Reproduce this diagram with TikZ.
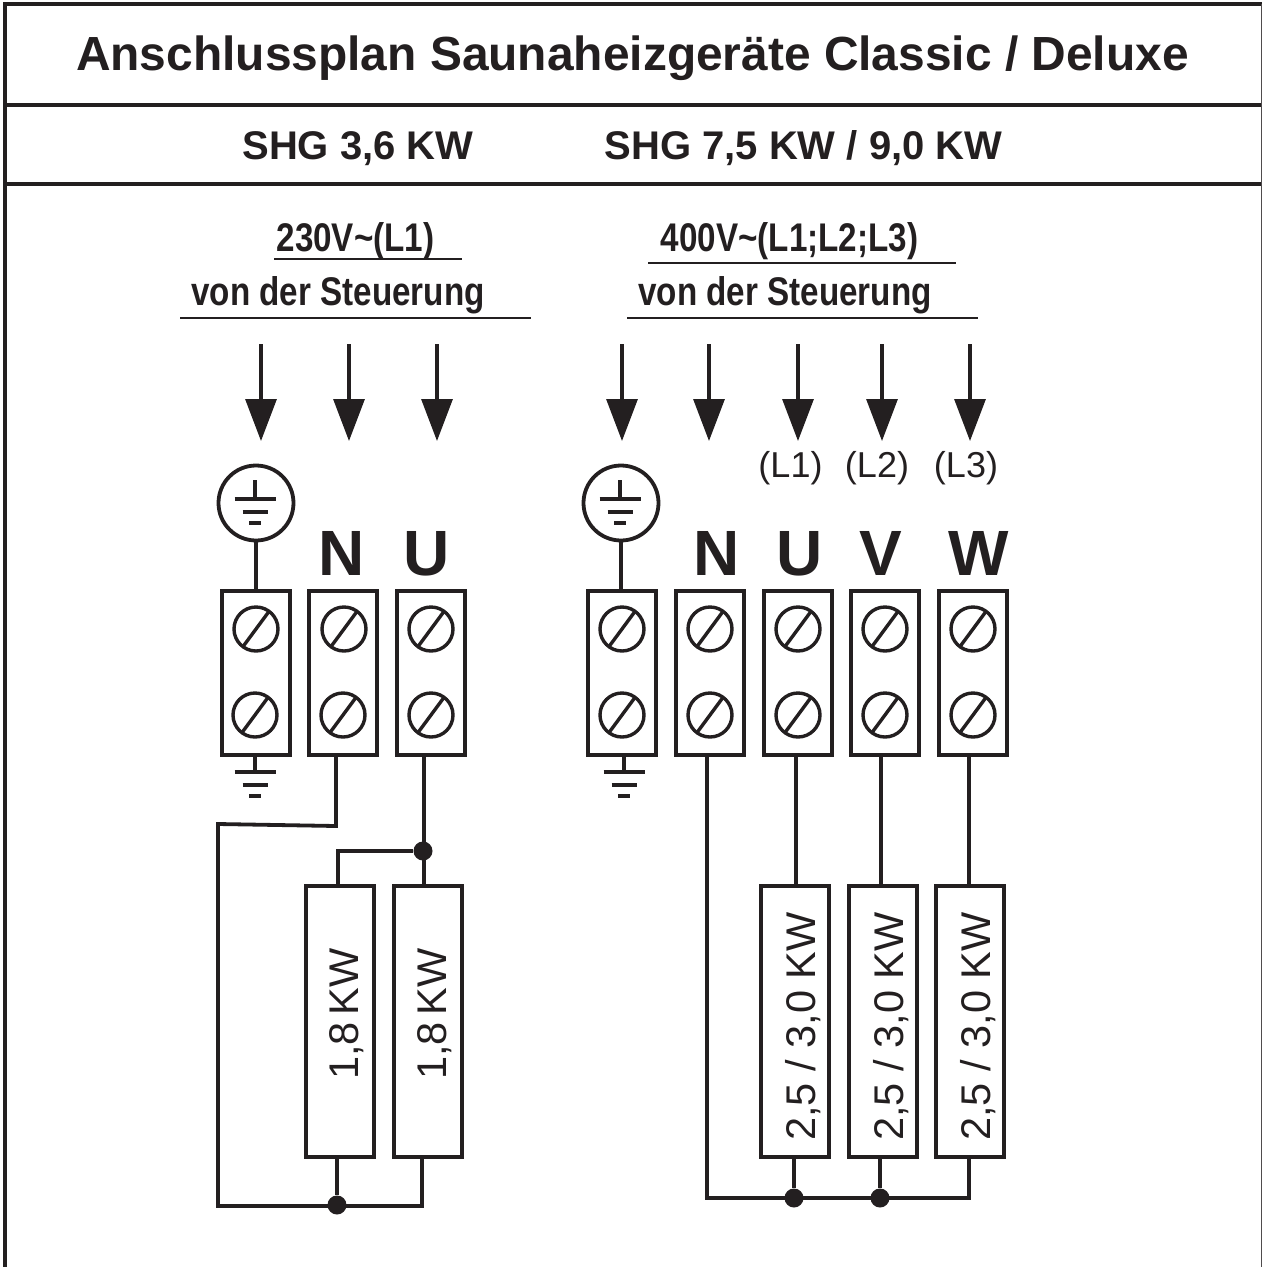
\documentclass[tikz,border=0pt]{standalone}
\usepackage{fontspec}
\setmainfont{Liberation Sans}
\newfontfamily\condfont[FakeStretch=0.83]{Liberation Sans}
\usepackage{tikz}
\usetikzlibrary{arrows.meta}
\definecolor{ink}{HTML}{231F20}
\tikzset{
	wire/.style={draw=ink, line width=3.8pt},
	rule/.style={draw=ink, line width=2pt},
	frameline/.style={draw=ink, line width=4pt},
	edgeline/.style={draw=ink!80, line width=1pt},
	feed/.style={draw=ink, line width=3.2pt, -{Triangle[length=42pt,width=31pt,fill=ink]}},
	terminal/.style={draw=ink, line width=3.8pt, rectangle, minimum width=68pt, minimum height=164pt, inner sep=0pt},
	heater/.style={draw=ink, line width=3.8pt, rectangle, minimum width=68pt, minimum height=271pt, inner sep=0pt},
	screw/.style={circle, draw=ink, line width=3.4pt, minimum size=44pt, inner sep=0pt,
		path picture={\draw[ink, line width=3.4pt] ([xshift=-17pt,yshift=-23pt]path picture bounding box.center) -- ([xshift=17pt,yshift=23pt]path picture bounding box.center);}},
	earthring/.style={circle, draw=ink, line width=3.8pt, minimum size=75pt, inner sep=0pt},
	dot/.style={circle, fill=ink, inner sep=0pt, minimum size=19pt},
	title/.style={font=\fontsize{47.9}{49}\selectfont\bfseries, text=ink, inner sep=0pt, anchor=base},
	subtitle/.style={font=\fontsize{40}{40}\selectfont\bfseries, text=ink, inner sep=0pt, anchor=base},
	supply/.style={font=\condfont\fontsize{40}{40}\selectfont\bfseries, text=ink, inner sep=0pt, anchor=base},
	phase/.style={font=\fontsize{36}{36}\selectfont, text=ink, inner sep=0pt, anchor=base},
	letter/.style={font=\fontsize{64}{64}\selectfont\bfseries, text=ink, inner sep=0pt, anchor=base},
	power/.style={font=\fontsize{41.5}{42}\selectfont, text=ink, inner sep=0pt, rotate=90},
	earth/.pic={
		\draw[ink, line width=4pt] (0,-23) -- (0,-4);
		\draw[ink, line width=4pt] (-20.5,-4) -- (20.5,-4);
		\draw[ink, line width=4pt] (-12.5,9) -- (12.5,9);
		\draw[ink, line width=4pt] (-6,20) -- (6,20);
	}
}
\begin{document}
\begin{tikzpicture}[x=1pt, y=-1pt]
	\useasboundingbox (0,0) rectangle (1262,1267);

	% frame
	\coordinate (TL) at (5,4);
	\coordinate (TR) at (1262,4);
	\coordinate (BL) at (5,1267);
	\coordinate (BR) at (1261,1267);
	\coordinate (TE) at (1261,4);
	\coordinate (R1L) at (5,105);
	\coordinate (R1R) at (1262,105);
	\coordinate (R2L) at (5,184);
	\coordinate (R2R) at (1262,184);
	\draw[frameline] (BL) -- (TL) -- (TR);
	\draw[frameline] (R1L) -- (R1R);
	\draw[frameline] (R2L) -- (R2R);
	\draw[edgeline] (TE) -- (BR);

	% headings
	\node[title] (head) at (632.5,70) {Anschlussplan Saunaheizgeräte Classic / Deluxe};
	\node[subtitle] (shgA) at (358,159.5) {SHG 3,6 KW};
	\node[subtitle] (shgB) at (803.5,159.5) {SHG 7,5 KW / 9,0 KW};

	\node[supply] (voltA) at (355.5,251) {230V\char"7E(L1)};
	\node[supply] (voltB) at (789.5,251) {400V\char"7E(L1;L2;L3)};
	\node[supply] (fromA) at (338,305) {von der Steuerung};
	\node[supply] (fromB) at (785,305) {von der Steuerung};

	\coordinate (ruleA1) at (274,259);
	\coordinate (ruleA2) at (462,259);
	\coordinate (ruleB1) at (180,318);
	\coordinate (ruleB2) at (531,318);
	\coordinate (ruleC1) at (648,263);
	\coordinate (ruleC2) at (956,263);
	\coordinate (ruleD1) at (627,318);
	\coordinate (ruleD2) at (978,318);
	\draw[rule] (ruleA1) -- (ruleA2);
	\draw[rule] (ruleB1) -- (ruleB2);
	\draw[rule] (ruleC1) -- (ruleC2);
	\draw[rule] (ruleD1) -- (ruleD2);

	% incoming arrows
	\coordinate (a1) at (261,344); \coordinate (b1) at (261,441);
	\coordinate (a2) at (349,344); \coordinate (b2) at (349,441);
	\coordinate (a3) at (437,344); \coordinate (b3) at (437,441);
	\coordinate (a4) at (622,344); \coordinate (b4) at (622,441);
	\coordinate (a5) at (709,344); \coordinate (b5) at (709,441);
	\coordinate (a6) at (798,344); \coordinate (b6) at (798,441);
	\coordinate (a7) at (882,344); \coordinate (b7) at (882,441);
	\coordinate (a8) at (970,344); \coordinate (b8) at (970,441);
	\draw[feed] (a1) -- (b1);
	\draw[feed] (a2) -- (b2);
	\draw[feed] (a3) -- (b3);
	\draw[feed] (a4) -- (b4);
	\draw[feed] (a5) -- (b5);
	\draw[feed] (a6) -- (b6);
	\draw[feed] (a7) -- (b7);
	\draw[feed] (a8) -- (b8);

	\node[phase] (phase1) at (790.5,477) {(L1)};
	\node[phase] (phase2) at (877,477) {(L2)};
	\node[phase] (phase3) at (966,477) {(L3)};

	% letters
	\node[letter] (letN) at (342,575) {N};
	\node[letter] (letU) at (427,575) {U};
	\node[letter] (letNr) at (717,575) {N};
	\node[letter] (letUr) at (800,575) {U};
	\node[letter] (letV) at (881,575) {V};
	\node[letter] (letW) at (979,575) {W};

	% terminal blocks
	\node[terminal] (T1) at (256,673) {};
	\node[terminal] (T2) at (343,673) {};
	\node[terminal] (T3) at (431,673) {};
	\node[terminal] (T4) at (622,673) {};
	\node[terminal] (T5) at (710,673) {};
	\node[terminal] (T6) at (798,673) {};
	\node[terminal] (T7) at (885,673) {};
	\node[terminal] (T8) at (973,673) {};

	\node[screw] (s1a) at (256,629) {};
	\node[screw] (s1b) at (255,715) {};
	\node[screw] (s2a) at (344,629) {};
	\node[screw] (s2b) at (343,715) {};
	\node[screw] (s3a) at (431,629) {};
	\node[screw] (s3b) at (431,715) {};
	\node[screw] (s4a) at (622,629) {};
	\node[screw] (s4b) at (622,715) {};
	\node[screw] (s5a) at (710,629) {};
	\node[screw] (s5b) at (710,715) {};
	\node[screw] (s6a) at (798,629) {};
	\node[screw] (s6b) at (798,715) {};
	\node[screw] (s7a) at (885,629) {};
	\node[screw] (s7b) at (885,715) {};
	\node[screw] (s8a) at (973,629) {};
	\node[screw] (s8b) at (973,715) {};

	% earth symbols
	\node[earthring] (E1) at (256,503) {};
	\node[earthring] (E2) at (621,503) {};
	\pic at (255,503) {earth};
	\pic at (620,503) {earth};
	\pic at (255,776) {earth};
	\pic at (624,776) {earth};
	\draw[wire] (E1.south) -- (E1.south |- T1.north);
	\draw[wire] (E2.south) -- (E2.south |- T4.north);

	% heaters
	\node[heater] (H1) at (340,1021.5) {};
	\node[heater] (H2) at (428,1021.5) {};
	\node[heater] (H3) at (795,1021.5) {};
	\node[heater] (H4) at (883,1021.5) {};
	\node[heater] (H5) at (970,1021.5) {};

	\node[power] (P1) at (347,1014) {1,8\hspace{7pt}KW};
	\node[power] (P2) at (435,1014) {1,8\hspace{7pt}KW};
	\node[power] (P3) at (803,1026.5) {2,5 / 3,0 KW};
	\node[power] (P4) at (891,1026.5) {2,5 / 3,0 KW};
	\node[power] (P5) at (978,1026.5) {2,5 / 3,0 KW};

	% junctions
	\node[dot] (J1) at (423,851) {};
	\node[dot] (J2) at (337,1205) {};
	\node[dot] (J3) at (794,1198) {};
	\node[dot] (J4) at (880,1198) {};
	\coordinate (c1) at (336,826);
	\coordinate (c2) at (218,824);
	\coordinate (c3) at (218,1206);
	\coordinate (c4) at (422,1206);
	\coordinate (c5) at (338,851);
	\coordinate (c6) at (707,1198);
	\coordinate (c7) at (969,1198);

	% left wiring
	\draw[wire] (c1 |- T2.south) -- (c1) -- (c2) -- (c3) -- (c4) -- (c4 |- H2.south);
	\draw[wire] ([xshift=-6.7pt]T3.south) -- ([xshift=-3.7pt]H2.north);
	\draw[wire] (J1) -- (c5) -- (c5 |- H1.north);
	\draw[wire] (J2) -- (J2 |- H1.south);

	% right wiring
	\draw[wire] (c6 |- T5.south) -- (c6) -- (c7) -- (c7 |- H5.south);
	\draw[wire] ([xshift=-2pt]T6.south) -- ([xshift=1pt]H3.north);
	\draw[wire] ([xshift=-4pt]T7.south) -- ([xshift=-2pt]H4.north);
	\draw[wire] ([xshift=-4pt]T8.south) -- ([xshift=-1pt]H5.north);
	\draw[wire] (J3) -- (J3 |- H3.south);
	\draw[wire] (J4) -- (J4 |- H4.south);
\end{tikzpicture}
\end{document}
